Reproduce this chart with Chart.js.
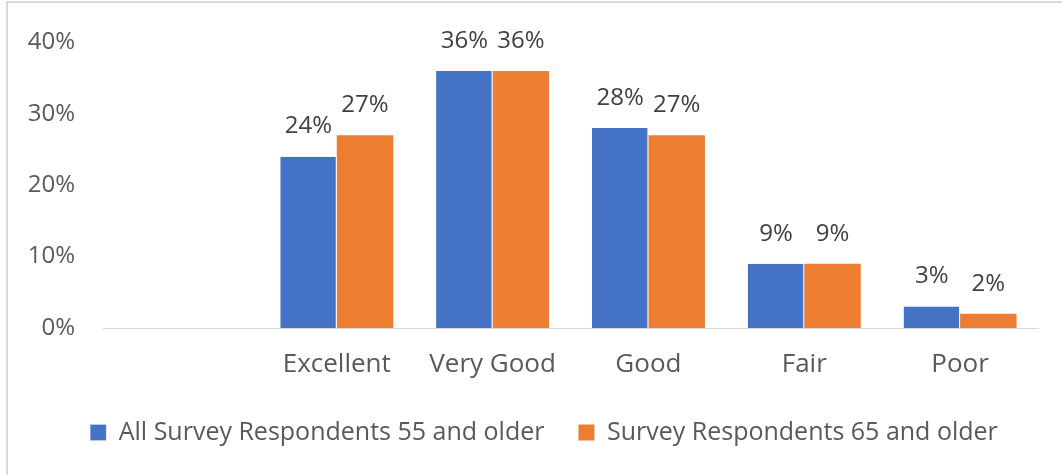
<!DOCTYPE html>
<html>
<head>
<meta charset="utf-8">
<script src="https://cdn.jsdelivr.net/npm/chart.js@4/dist/chart.umd.min.js"></script>
<style>
  html, body { margin: 0; padding: 0; background: #fff; }
  #wrap { position: relative; width: 1062px; height: 475px; }
  #frame { position: absolute; left: 6px; top: 1px; right: -2px; bottom: -2px;
           border-left: 2px solid #d9d9d9; border-top: 2px solid #d9d9d9; }
  canvas { position: absolute; left: 0; top: 0; }
</style>
</head>
<body>
<div id="wrap">
  <div id="frame"></div>
  <canvas id="ratingChart" width="1062" height="475"></canvas>
</div>
<script>
// first category is left blank on purpose
const categories = ['', 'Excellent', 'Very Good', 'Good', 'Fair', 'Poor'];
const all55 = [null, 24, 36, 28, 9, 3];
const all65 = [null, 27, 36, 27, 9, 2];
const seriesNames = ['All Survey Respondents 55 and older', 'Survey Respondents 65 and older'];
const yTicks = [0, 10, 20, 30, 40];

const FONT = '"Open Sans", Lato, sans-serif';

// value labels above each bar
const barLabels = {
    id: 'barLabels',
    afterDatasetsDraw(chart) {
        const ctx = chart.ctx;
        ctx.save();
        ctx.font = '24px ' + FONT;
        ctx.fillStyle = '#404040';
        ctx.textAlign = 'center';
        ctx.textBaseline = 'middle';
        chart.data.datasets.forEach((ds, i) => {
            chart.getDatasetMeta(i).data.forEach((bar, j) => {
                const v = ds.data[j];
                if (v == null) return;
                ctx.fillText(v + '%', bar.x, bar.y - 30);
            });
        });
        ctx.restore();
    }
};

// nudge the legend row a bit to the right
const legendShift = {
    id: 'legendShift',
    afterLayout(chart) {
        chart.legend.left += 25;
        chart.legend.right += 25;
    }
};

new Chart(document.getElementById('ratingChart'), {
    type: 'bar',
    data: {
        labels: categories,
        datasets: [{
            label: seriesNames[0],
            data: all55,
            backgroundColor: '#4472C4',
            borderColor: '#ffffff',
            borderWidth: { left: 0, right: 1, top: 0, bottom: 0 }
        }, {
            label: seriesNames[1],
            data: all65,
            backgroundColor: '#ED7D31',
            borderWidth: 0
        }]
    },
    options: {
        responsive: false,
        animation: false,
        categoryPercentage: 0.725,
        barPercentage: 1,
        layout: { padding: { top: 37, right: 24, bottom: 20, left: 0 } },
        plugins: {
            legend: {
                position: 'bottom',
                labels: {
                    font: { family: FONT, size: 25 },
                    color: '#595959',
                    boxWidth: 16,
                    boxHeight: 16,
                    padding: 34
                }
            },
            tooltip: { enabled: false }
        },
        scales: {
            x: {
                grid: { display: false, drawTicks: false },
                border: { display: true, color: '#d9d9d9', width: 1 },
                ticks: {
                    font: { family: FONT, size: 26 },
                    color: '#595959',
                    padding: 21,
                    maxRotation: 0
                },
                afterFit(scale) { scale.height = 58; }
            },
            y: {
                min: 0,
                max: 40,
                afterBuildTicks(scale) { scale.ticks = yTicks.map(v => ({ value: v })); },
                grid: { display: false, drawTicks: false },
                border: { display: false },
                ticks: {
                    font: { family: FONT, size: 24 },
                    color: '#595959',
                    padding: 28,
                    callback: v => v + '%'
                },
                afterFit(scale) { scale.width = 103; }
            }
        }
    },
    plugins: [barLabels, legendShift]
});
</script>
</body>
</html>
